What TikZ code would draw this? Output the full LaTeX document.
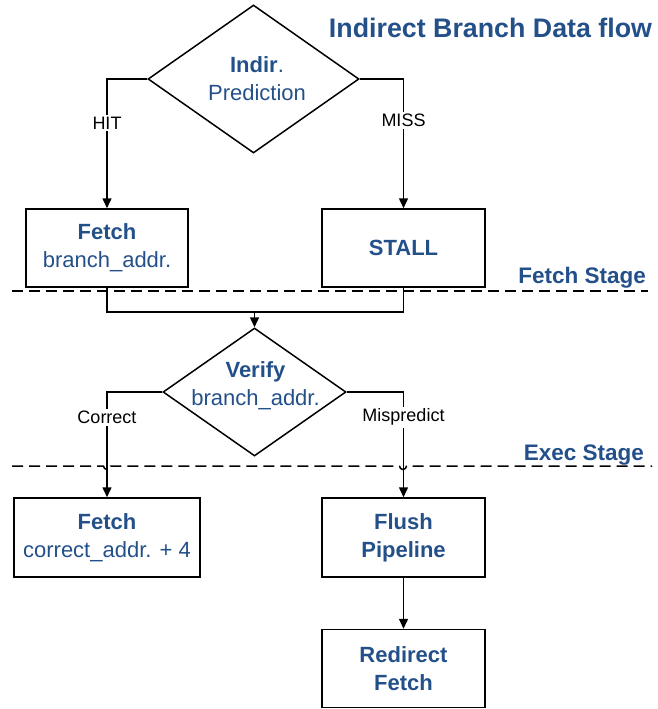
\documentclass[tikz,border=0pt]{standalone}
\usepackage{fontspec}
\setmainfont{Liberation Sans}
\usetikzlibrary{shapes.geometric,arrows.meta}
\definecolor{flowblue}{HTML}{24508A}
\begin{document}
\begin{tikzpicture}[x=1pt,y=-1pt,
  line width=1.5pt,
  boxtext/.style={font=\fontsize{22}{28}\selectfont, text=flowblue, align=center},
  stepbox/.style={draw, rectangle, inner sep=0pt, boxtext},
  decision/.style={draw, diamond, inner sep=0pt},
  arr/.style={-{Triangle[length=10pt,width=9pt]}},
  edgelabel/.style={fill=white, inner sep=2pt, font=\fontsize{18}{20}\selectfont, text=black},
  stageline/.style={dash pattern=on 11pt off 6pt},
  stagelabel/.style={anchor=east, font=\fontsize{22.5}{26}\selectfont\bfseries, text=flowblue}]
  \useasboundingbox (0,0) rectangle (658,709);

  % title
  \node[font=\fontsize{26.8}{30}\selectfont\bfseries, text=flowblue] (title) at (490.5,28) {Indirect Branch Data flow};

  % fetch stage
  \node[decision, minimum width=211pt, minimum height=148pt] (pred) at (253.5,79) {};
  \node[boxtext, inner sep=0pt] (predtext) at (257,79) {{\bfseries Indir}.\\Prediction};
  \node[stepbox, minimum width=162pt, minimum height=78pt] (fetchA) at (107,248)
    {{\bfseries Fetch}\\branch\_addr.};
  \node[stepbox, minimum width=163pt, minimum height=78pt] (stall) at (403.5,248)
    {\bfseries STALL};

  \draw[arr] (pred.west) -| node[edgelabel, pos=0.67] (hit) {HIT} (fetchA.north);
  \draw[arr] (pred.east) -| node[edgelabel, pos=0.66] (miss) {MISS} (stall.north);

  % merge into verification
  \coordinate (merge) at (254.5,312);
  \node[decision, minimum width=183pt, minimum height=128pt] (verify) at (254.5,392) {};
  \node[boxtext, inner sep=0pt] (verifytext) at (255.5,386) {{\bfseries Verify}\\branch\_addr.};
  \draw (fetchA.south) |- (merge) -| (stall.south);
  \draw[arr] (merge) -- (verify.north);

  % exec stage
  \node[stepbox, minimum width=186pt, minimum height=79pt] (fetchB) at (107,537.5)
    {{\bfseries Fetch}\\correct\_addr. + 4};
  \node[stepbox, minimum width=163pt, minimum height=79pt] (flush) at (403.5,537.5)
    {\bfseries Flush\\\bfseries Pipeline};
  \node[stepbox, minimum width=163pt, minimum height=78pt] (redirect) at (403.5,668.5)
    {\bfseries Redirect\\\bfseries Fetch};

  \draw[arr] (verify.west) -| node[edgelabel, pos=0.62] (correct) {Correct} (fetchB.north);
  \draw[arr] (verify.east) -| node[edgelabel, pos=0.62] (mispredict) {Mispredict} (flush.north);
  \draw[arr] (flush.south) -- (redirect.north);

  % stage boundaries
  \coordinate (fsL) at (12,291);
  \coordinate (fsR) at (648,291);
  \draw[stageline] (fsL) -- (fsR);
  \node[stagelabel] (fetchstage) at (650,278) {Fetch Stage};

  \coordinate (esL) at (12,466);
  \coordinate (esR) at (652,466);
  \draw[stageline] (esL) -- (103.5,466) arc[start angle=180, end angle=0, radius=3.5]
    -- (399.5,466) arc[start angle=180, end angle=0, radius=3.5] -- (esR);
  \node[stagelabel] (execstage) at (648,455) {Exec Stage};
\end{tikzpicture}
\end{document}
